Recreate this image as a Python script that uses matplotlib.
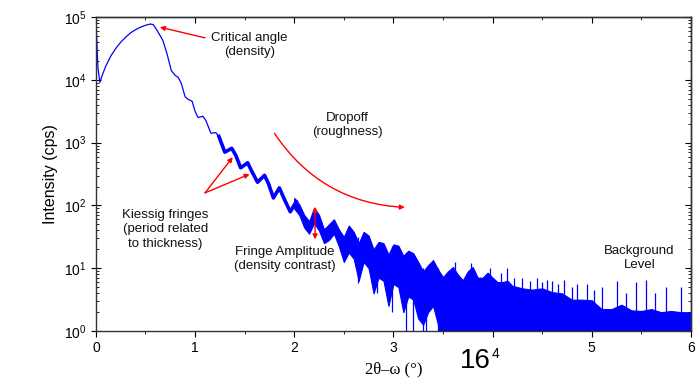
import numpy as np
import matplotlib
matplotlib.use("Agg")
import matplotlib.pyplot as plt
from matplotlib.ticker import LogLocator, FuncFormatter, MultipleLocator, NullFormatter

plt.rcParams['font.family'] = ['Liberation Sans', 'DejaVu Sans']
plt.rcParams['mathtext.default'] = 'regular'

# main reflectivity curve (2theta-omega in deg, log10 intensity)
angle_main = [0.0, 0.01, 0.02, 0.04, 0.07, 0.1, 0.15, 0.2, 0.25, 0.3, 0.35, 0.4, 0.45, 0.5,
              0.55, 0.58, 0.62, 0.675, 0.72, 0.76, 0.8, 0.83, 0.86, 0.9, 0.93, 0.97, 1.0,
              1.03, 1.08, 1.11, 1.16, 1.21, 1.24, 1.3, 1.37, 1.41, 1.46, 1.53, 1.57, 1.63,
              1.70, 1.74, 1.79, 1.85, 1.9, 1.96, 2.02]
logI_main = [4.98, 4.6, 4.2, 3.96, 4.1, 4.22, 4.38, 4.5, 4.6, 4.68, 4.75, 4.8, 4.84, 4.87,
             4.89, 4.88, 4.78, 4.63, 4.4, 4.15, 4.07, 4.04, 3.95, 3.73, 3.69, 3.66, 3.5,
             3.4, 3.42, 3.35, 3.15, 3.16, 3.1, 2.85, 2.91, 2.8, 2.6, 2.68, 2.55, 2.37,
             2.48, 2.35, 2.12, 2.28, 2.1, 1.9, 2.06]

# noisy part: upper / lower envelope of the trace (log10)
angle_band = [2.00, 2.05, 2.10, 2.15, 2.20, 2.25, 2.30, 2.35, 2.40, 2.45, 2.50, 2.55, 2.60,
              2.65, 2.70, 2.75, 2.80, 2.85, 2.90, 2.95, 3.00, 3.05, 3.10, 3.15, 3.20, 3.25,
              3.30, 3.35, 3.40, 3.45, 3.50, 3.55, 3.60, 3.65, 3.70, 3.75, 3.80, 3.85, 3.90,
              3.95, 4.00, 4.05, 4.10, 4.15, 4.20, 4.30, 4.40, 4.50, 4.60, 4.70, 4.80, 4.90,
              5.00, 5.10, 5.20, 5.30, 5.40, 5.50, 5.60, 5.70, 5.80, 5.90, 6.00]
logI_upper = [2.12, 2.02, 1.85, 1.75, 1.96, 1.85, 1.62, 1.70, 1.78, 1.62, 1.50, 1.68, 1.58,
              1.40, 1.58, 1.52, 1.30, 1.42, 1.40, 1.22, 1.38, 1.36, 1.20, 1.28, 1.24, 1.10,
              0.95, 1.05, 1.13, 0.98, 0.86, 0.95, 1.02, 0.90, 0.81, 0.95, 1.02, 0.85, 0.85,
              0.93, 0.85, 0.78, 0.78, 0.80, 0.72, 0.68, 0.66, 0.68, 0.62, 0.60, 0.50, 0.50,
              0.49, 0.35, 0.35, 0.42, 0.33, 0.32, 0.35, 0.30, 0.32, 0.30, 0.30]
logI_lower = [1.95, 1.85, 1.65, 1.55, 1.72, 1.60, 1.40, 1.45, 1.55, 1.35, 1.10, 1.25, 1.15,
              0.80, 1.10, 1.00, 0.60, 0.85, 0.80, 0.40, 0.75, 0.70, 0.30, 0.55, 0.50, 0.20,
              0.10, 0.30, 0.40, 0.10] + [-0.3] * 33

# isolated spikes of the noisy trace
spike_angle = [2.64, 2.83, 2.99, 3.13, 3.20, 3.30, 3.33, 3.45, 3.62, 3.78, 3.97, 4.08, 4.15,
               4.22, 4.30, 4.38, 4.45, 4.50, 4.55, 4.60, 4.66, 4.72, 4.80, 4.85, 4.95, 5.02,
               5.10, 5.25, 5.35, 5.45, 5.55, 5.64, 5.75, 5.90]
spike_low = [0.76, 0.6, 0.3, -0.3, -0.3, -0.3, -0.3, -0.3, 0.5, 0.5, 0.5, 0.5, 0.5, 0.4, 0.4,
             0.4, 0.4, 0.4, 0.4, 0.4, 0.4, 0.4, 0.3, 0.3, 0.3, 0.3, 0.3, 0.2, 0.2, 0.2, 0.2,
             0.2, 0.2, 0.2]
spike_high = [1.5, 1.35, 1.35, 1.25, 1.2, 1.0, 0.95, 1.0, 1.1, 1.08, 1.0, 0.92, 1.0, 0.85,
              0.85, 0.8, 0.85, 0.78, 0.82, 0.8, 0.75, 0.82, 0.7, 0.75, 0.75, 0.65, 0.7, 0.8,
              0.6, 0.78, 0.81, 0.6, 0.7, 0.7]

blue = '#0000ff'
red = '#ff0000'

fig = plt.figure(figsize=(7.0, 3.89), dpi=100)
ax = fig.add_axes([0.137, 0.149, 0.850, 0.807])

ax.plot(angle_main[:33], 10 ** np.array(logI_main[:33]), color=blue, lw=0.9)
ax.plot(angle_main[32:], 10 ** np.array(logI_main[32:]), color=blue, lw=2.6)
ax.fill_between(angle_band, 10 ** np.array(logI_lower), 10 ** np.array(logI_upper),
                color=blue, lw=0.8, edgecolor=blue)
ax.vlines(spike_angle, 10 ** np.array(spike_low), 10 ** np.array(spike_high),
          color=blue, lw=0.9)

ax.set_yscale('log')
ax.set_xlim(0, 6)
ax.set_ylim(1, 1e5)
ax.xaxis.set_major_locator(MultipleLocator(1))
ax.xaxis.set_minor_locator(MultipleLocator(0.5))
ax.yaxis.set_major_locator(LogLocator(base=10, numticks=10))
ax.yaxis.set_minor_locator(LogLocator(base=10, subs=np.arange(2, 10), numticks=10))
ax.yaxis.set_major_formatter(FuncFormatter(lambda v, p: r'$10^{%d}$' % round(np.log10(v))))
ax.yaxis.set_minor_formatter(NullFormatter())
ax.xaxis.set_major_formatter(FuncFormatter(lambda v, p: '' if round(v) == 4 else '%d' % round(v)))
ax.tick_params(axis='x', which='both', direction='out', labelsize=10)
ax.tick_params(axis='y', which='both', direction='in', labelsize=10)
ax.tick_params(axis='y', which='major', direction='inout', length=7)
ax.tick_params(axis='y', which='minor', length=2.5)
ax.tick_params(axis='x', which='major', length=4)
ax.tick_params(axis='x', which='minor', length=2.5)

# mirrored inward ticks on top and right
top = ax.secondary_xaxis('top')
top.xaxis.set_major_locator(MultipleLocator(1))
top.xaxis.set_minor_locator(MultipleLocator(0.5))
top.tick_params(which='both', direction='in', labeltop=False)
top.tick_params(which='major', length=4)
top.tick_params(which='minor', length=2.5)
right = ax.secondary_yaxis('right')
right.yaxis.set_major_locator(LogLocator(base=10, numticks=10))
right.yaxis.set_minor_locator(LogLocator(base=10, subs=np.arange(2, 10), numticks=10))
right.tick_params(which='both', direction='in', labelright=False)
right.tick_params(which='major', length=4)
right.tick_params(which='minor', length=2.5)
for a in (ax, top, right):
    for sp in a.spines.values():
        sp.set_color('#333333')
        sp.set_linewidth(1.0)

ax.set_ylabel('Intensity (cps)', fontsize=11.5)
ax.set_xlabel('2θ–ω (°)', fontsize=12, family=['Liberation Serif', 'DejaVu Serif'])

# the stray "16^4" in place of the 4 tick label
ax.text(3.83, -0.055, '16', transform=ax.get_xaxis_transform(), fontsize=20,
        ha='center', va='top')
ax.text(4.03, -0.05, '4', transform=ax.get_xaxis_transform(), fontsize=10,
        ha='center', va='top')

txt = dict(fontsize=9.5, ha='center', va='center', color='#111111', linespacing=1.25)
arr = dict(arrowstyle='-|>', color=red, lw=1.0, mutation_scale=7, shrinkA=0, shrinkB=0)

ax.annotate('', xy=(0.645, 10 ** 4.84), xytext=(1.10, 10 ** 4.67), arrowprops=arr)
ax.text(1.55, 10 ** 4.56, 'Critical angle\n(density)', **txt)

ax.annotate('', xy=(3.115, 10 ** 1.97), xytext=(1.80, 10 ** 3.15),
            arrowprops=dict(arr, connectionstyle='arc3,rad=0.25'))
ax.text(2.54, 10 ** 3.28, 'Dropoff\n(roughness)', **txt)

ax.annotate('', xy=(1.38, 10 ** 2.77), xytext=(1.10, 10 ** 2.20), arrowprops=arr)
ax.annotate('', xy=(1.55, 10 ** 2.50), xytext=(1.10, 10 ** 2.20), arrowprops=arr)
ax.text(0.70, 10 ** 1.62, 'Kiessig fringes\n(period related\nto thickness)', **txt)

ax.annotate('', xy=(2.21, 10 ** 1.98), xytext=(2.21, 10 ** 1.46),
            arrowprops=dict(arr, arrowstyle='<|-|>'))
ax.text(1.90, 10 ** 1.15, 'Fringe Amplitude\n(density contrast)', **txt)

ax.text(5.48, 10 ** 1.16, 'Background\nLevel', **txt)

fig.savefig('out.png', dpi=100)
